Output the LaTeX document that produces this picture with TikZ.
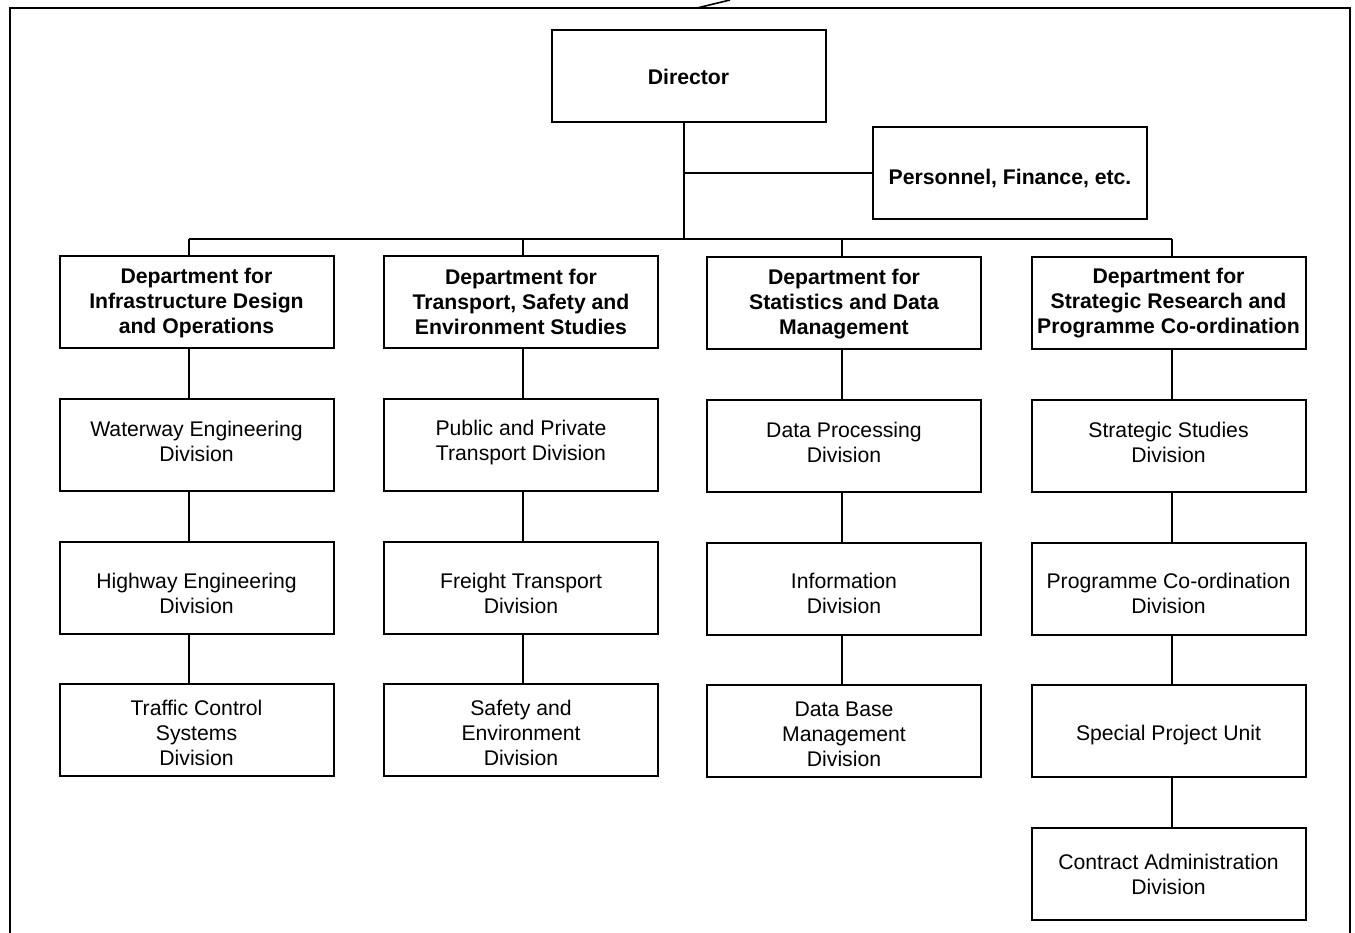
\documentclass[tikz,border=0pt]{standalone}
\usepackage{fontspec}
\setmainfont{Liberation Sans}
\begin{document}
\begin{tikzpicture}[x=0.75pt,y=-0.75pt,
  box/.style={draw,line width=1.5pt,minimum width=205.5pt,minimum height=69pt,inner sep=0pt},
  tl/.style={align=center,inner sep=0pt,font=\fontsize{15.9}{18.75}\selectfont},
  t/.style 2 args={label={[tl,yshift=-#1*0.75pt]center:{#2}}},
  tb/.style 2 args={label={[tl,font=\fontsize{15.9}{18.75}\selectfont\bfseries,yshift=-#1*0.75pt]center:{#2}}},
  conn/.style={line width=1.5pt}]
\useasboundingbox (0,0) rectangle (1355,932);
% frame
\draw[line width=2.2pt] (10,934) -- (10,8) -- (1350,8) -- (1350,934);
\draw[line width=1.2pt] (697,8) -- (730,0);
% top
\node[box,tb={1}{Director}] (dir) at (688.5,76) {};
\node[box,tb={5}{Personnel, Finance, etc.}] (per) at (1010,173) {};
% column 1
\node[box,tb={1}{Department for\\Infrastructure Design\\and Operations}] (d1) at (196.5,302) {};
\node[box,t={-4}{Waterway Engineering\\Division}] (a1) at (196.5,445) {};
\node[box,t={6}{Highway Engineering\\Division}] (b1) at (196.5,587.5) {};
\node[box,t={3}{Traffic Control\\Systems\\Division}] (c1) at (196.5,730) {};
% column 2
\node[box,tb={0}{Department for\\Transport, Safety and\\Environment Studies}] (d2) at (521,302) {};
\node[box,t={-2}{Public and Private\\Transport Division}] (a2) at (521,445) {};
\node[box,t={5}{Freight Transport\\Division}] (b2) at (521,588) {};
\node[box,t={3}{Safety and\\Environment\\Division}] (c2) at (521,730) {};
% column 3
\node[box,tb={1}{Department for\\Statistics and Data\\Management}] (d3) at (844,303) {};
\node[box,t={-4}{Data Processing\\Division}] (a3) at (844,446) {};
\node[box,t={5}{Information\\Division}] (b3) at (844,588.5) {};
\node[box,t={3}{Data Base\\Management\\Division}] (c3) at (844,731) {};
% column 4
\node[box,tb={1}{Department for\\Strategic Research and\\Programme Co-ordination}] (d4) at (1168.5,302.5) {};
\node[box,t={-4}{Strategic Studies\\Division}] (a4) at (1168.5,446) {};
\node[box,t={5}{Programme Co-ordination\\Division}] (b4) at (1168.5,588.5) {};
\node[box,t={4}{Special Project Unit}] (c4) at (1168.5,731) {};
\node[box,t={0}{Contract Administration\\Division}] (e4) at (1168.5,874) {};
% bus
\coordinate (j) at (684,239);
\coordinate (x1) at (189,239);
\coordinate (x2) at (523,239);
\coordinate (x3) at (842,239);
\coordinate (x4) at (1172,239);
\draw[conn] (dir.south -| j) -- (j);
\draw[conn] (j |- per.west) -- (per.west);
\draw[conn] (x1) -- (x4);
\foreach \c in {1,2,3,4}{
  \draw[conn] (x\c) -- (d\c.north -| x\c);
  \draw[conn] (d\c.south -| x\c) -- (a\c.north -| x\c);
  \draw[conn] (a\c.south -| x\c) -- (b\c.north -| x\c);
  \draw[conn] (b\c.south -| x\c) -- (c\c.north -| x\c);
}
\draw[conn] (c4.south -| x4) -- (e4.north -| x4);
\end{tikzpicture}
\end{document}
